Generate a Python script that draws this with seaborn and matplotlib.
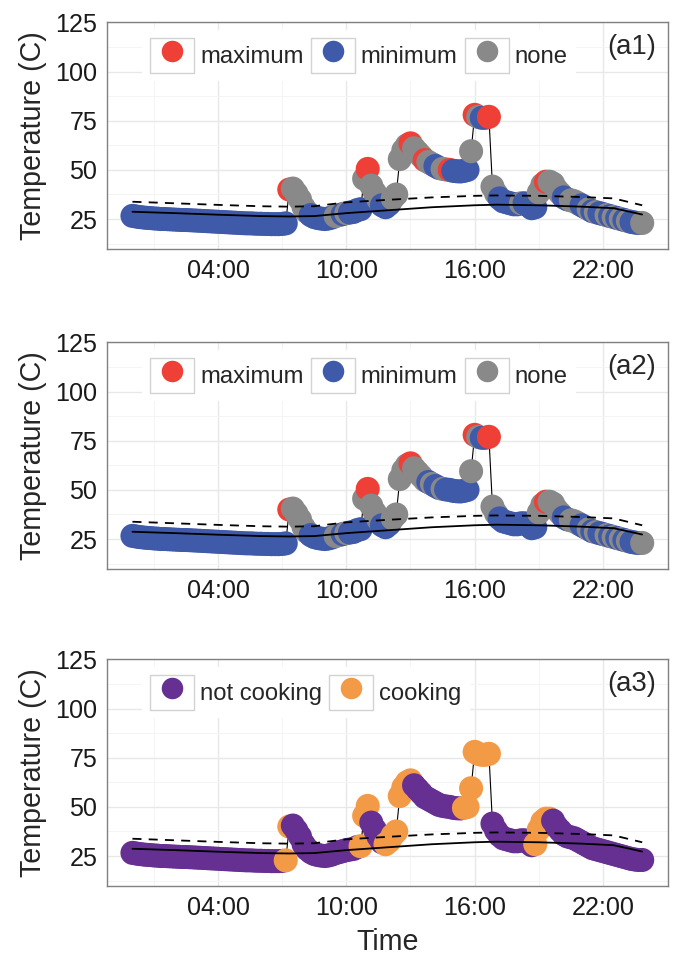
import matplotlib
matplotlib.use("Agg")
import matplotlib.pyplot as plt
import matplotlib.dates as mdates
from matplotlib import font_manager
from matplotlib.lines import Line2D
from matplotlib.patches import Rectangle
from matplotlib.legend_handler import HandlerTuple
import seaborn as sns
import pandas as pd

# temperature, one reading every 10 minutes from 00:00 to 23:50
temps = [
    26.6, 26.3, 26.0, 25.8, 25.6, 25.5, 25.3, 25.2, 25.0, 25.0, 24.9, 24.8,
    24.7, 24.6, 24.5, 24.5, 24.4, 24.3, 24.2, 24.1, 24.0, 23.9, 23.8, 23.7,
    23.6, 23.5, 23.4, 23.3, 23.2, 23.1, 23.0, 22.9, 22.8, 22.8, 22.7, 22.6,
    22.6, 22.5, 22.5, 22.4, 22.4, 22.4, 22.5, 22.8, 40.0, 40.5, 38.0, 35.0,
    31.0, 28.5, 27.0, 26.0, 25.5, 25.2, 25.0, 25.3, 25.8, 26.5, 27.0, 27.5,
    28.0, 28.3, 28.6, 29.5, 30.0, 45.5, 50.5, 42.0, 38.5, 35.0, 32.0, 31.0,
    32.5, 35.5, 37.5, 55.5, 60.0, 62.5, 63.5, 61.0, 59.0, 57.0, 55.0, 54.0,
    53.0, 52.0, 51.0, 50.5, 50.2, 50.0, 49.5, 49.3, 49.2, 49.5, 50.0, 59.5,
    78.0, 77.0, 76.5, 76.5, 77.0, 41.5, 38.0, 35.5, 34.0, 33.5, 33.0, 32.5,
    32.5, 33.0, 33.0, 32.0, 30.5, 31.0, 38.5, 42.5, 44.0, 44.0, 43.0, 40.0,
    38.0, 36.0, 35.0, 34.5, 34.0, 33.0, 32.0, 31.0, 30.0, 29.0, 28.5, 28.0,
    27.5, 27.0, 26.5, 26.0, 25.5, 25.0, 24.5, 24.0, 23.5, 23.2, 23.0, 23.0,
]

# point labels as (label, run length)
a1_runs = [
    ("minimum", 44), ("maximum", 1), ("none", 5), ("minimum", 7), ("none", 2),
    ("minimum", 1), ("none", 1), ("minimum", 4), ("none", 1), ("maximum", 1),
    ("none", 3), ("minimum", 3), ("none", 5), ("maximum", 1), ("none", 3),
    ("maximum", 1), ("none", 2), ("minimum", 2), ("none", 2), ("maximum", 1),
    ("minimum", 5), ("none", 1), ("maximum", 1), ("none", 1), ("minimum", 2),
    ("maximum", 1), ("none", 2), ("minimum", 6), ("none", 1), ("minimum", 4),
    ("none", 2), ("maximum", 1), ("none", 4), ("minimum", 2), ("none", 3),
    ("minimum", 2), ("none", 1), ("minimum", 1), ("none", 1), ("minimum", 2),
    ("none", 1), ("minimum", 1), ("none", 1), ("minimum", 1), ("none", 1),
    ("minimum", 1), ("none", 1), ("minimum", 3), ("none", 1),
]
a2_runs = [
    ("minimum", 44), ("maximum", 1), ("none", 5), ("minimum", 7), ("none", 2),
    ("minimum", 1), ("none", 1), ("minimum", 4), ("none", 1), ("maximum", 1),
    ("none", 3), ("minimum", 3), ("none", 5), ("maximum", 1), ("none", 4),
    ("minimum", 1), ("none", 1), ("minimum", 2), ("none", 1), ("minimum", 7),
    ("none", 1), ("maximum", 1), ("none", 1), ("minimum", 2), ("maximum", 1),
    ("none", 2), ("minimum", 11), ("none", 2), ("maximum", 1), ("none", 4),
    ("minimum", 2), ("none", 3), ("minimum", 2), ("none", 1), ("minimum", 1),
    ("none", 1), ("minimum", 2), ("none", 1), ("minimum", 1), ("none", 1),
    ("minimum", 1), ("none", 1), ("minimum", 1), ("none", 1), ("minimum", 3),
    ("none", 1),
]
a3_runs = [
    ("not cooking", 43), ("cooking", 2), ("not cooking", 19), ("cooking", 3),
    ("not cooking", 4), ("cooking", 8), ("not cooking", 14), ("cooking", 8),
    ("not cooking", 12), ("cooking", 5), ("not cooking", 26),
]

# baseline (solid) and baseline + threshold (dashed)
base_times = ["00:00", "02:00", "04:00", "06:00", "07:20", "08:30", "10:00",
              "12:00", "14:00", "16:00", "17:00", "19:00", "21:00", "22:30", "23:50"]
base_solid = [28.7, 28.0, 27.2, 26.5, 26.3, 26.5, 28.0, 29.5, 31.0, 32.0,
              32.3, 32.0, 31.3, 30.5, 27.3]
base_dashed = [33.8, 33.0, 32.2, 31.5, 31.3, 31.5, 33.5, 34.8, 36.0, 36.8,
               37.0, 36.8, 36.2, 35.5, 32.0]

event_colors = {"maximum": "#EE4036", "minimum": "#3F5AA9", "none": "#898989"}
cook_colors = {"not cooking": "#663092", "cooking": "#F39A46"}


def expand(runs):
    out = []
    for label, n in runs:
        out += [label] * n
    return out


day = pd.Timestamp("2000-01-01")
df = pd.DataFrame({
    "time": pd.date_range(day, periods=len(temps), freq="10min"),
    "temp": temps,
    "a1": expand(a1_runs),
    "a2": expand(a2_runs),
    "a3": expand(a3_runs),
})
base = pd.DataFrame({
    "time": pd.to_datetime(["2000-01-01 " + t for t in base_times]),
    "solid": base_solid,
    "dashed": base_dashed,
})

sns.set_style("white")
installed = {f.name for f in font_manager.fontManager.ttflist}
if "Liberation Sans Narrow" in installed:
    plt.rcParams["font.family"] = ["Liberation Sans Narrow", "DejaVu Sans"]
    fs = 1.0
else:
    plt.rcParams["font.family"] = ["Liberation Sans", "DejaVu Sans"]
    fs = 0.86

fig = plt.figure(figsize=(6.73, 9.56), dpi=100)
left, width, height = 107 / 673, 561 / 673, 227 / 956
bottoms = [1 - 249 / 956, 1 - 569 / 956, 1 - 886 / 956]

panels = [
    ("a1", event_colors, "(a1)"),
    ("a2", event_colors, "(a2)"),
    ("a3", cook_colors, "(a3)"),
]

for i, (col, pal, tag) in enumerate(panels):
    ax = fig.add_axes([left, bottoms[i], width, height])

    sns.lineplot(data=df, x="time", y="temp", color="black", lw=0.8,
                 sort=False, estimator=None, ax=ax, zorder=1)
    sns.scatterplot(data=df, x="time", y="temp", hue=col, palette=pal,
                    hue_order=list(pal.keys()), s=300, linewidth=0,
                    legend=False, ax=ax, zorder=2)
    sns.lineplot(data=base, x="time", y="solid", color="black", lw=1.3,
                 ax=ax, zorder=3)
    sns.lineplot(data=base, x="time", y="dashed", color="black", lw=1.3,
                 ax=ax, zorder=3)
    ax.lines[-1].set_dashes((5, 4))

    ax.set_xlim(day - pd.Timedelta(hours=1.19), day + pd.Timedelta(hours=25.04))
    ax.set_ylim(9.75, 125.25)
    ax.set_xticks([day + pd.Timedelta(hours=h) for h in (4, 10, 16, 22)])
    ax.set_xticks([day + pd.Timedelta(hours=h) for h in (1, 7, 13, 19)], minor=True)
    ax.xaxis.set_major_formatter(mdates.DateFormatter("%H:%M"))
    ax.set_yticks([25, 50, 75, 100, 125])
    ax.set_yticks([12.5, 37.5, 62.5, 87.5, 112.5], minor=True)

    ax.grid(which="major", color="#e8e8e8", lw=1.0)
    ax.grid(which="minor", color="#f4f4f4", lw=0.7)
    ax.set_axisbelow(True)
    for sp in ax.spines.values():
        sp.set_color("#808080")
        sp.set_linewidth(1.0)
    ax.tick_params(which="major", length=5, width=1, color="#333333",
                   labelsize=21 * fs, labelcolor="#1a1a1a", pad=2)
    ax.tick_params(which="minor", length=0)

    ax.set_ylabel("Temperature (C)", fontsize=24 * fs, labelpad=6)
    ax.set_xlabel("Time" if i == 2 else "", fontsize=24 * fs, labelpad=6)

    handles = [
        (Rectangle((0, 0), 1, 1, facecolor="white", edgecolor="#d2d2d2", lw=1),
         Line2D([], [], marker="o", ls="", ms=15.5, mfc=c, mec="none"))
        for c in pal.values()
    ]
    lfs = 20 * fs
    ax.legend(handles, list(pal.keys()),
              handler_map={tuple: HandlerTuple(ndivide=1, pad=0)},
              ncol=len(pal), loc="center left", bbox_to_anchor=(0.062, 0.852),
              frameon=True, fancybox=False, edgecolor="none", facecolor="white",
              framealpha=1, handlelength=44 / (lfs * 100 / 72),
              handleheight=44 / (lfs * 100 / 72),
              handletextpad=0.25, columnspacing=0.3, borderpad=0.35,
              borderaxespad=0, fontsize=lfs)

    ax.text(0.936, 0.889, tag, transform=ax.transAxes, ha="center",
            va="center", fontsize=23 * fs)

fig.savefig("out.png", dpi=100)
plt.close(fig)
